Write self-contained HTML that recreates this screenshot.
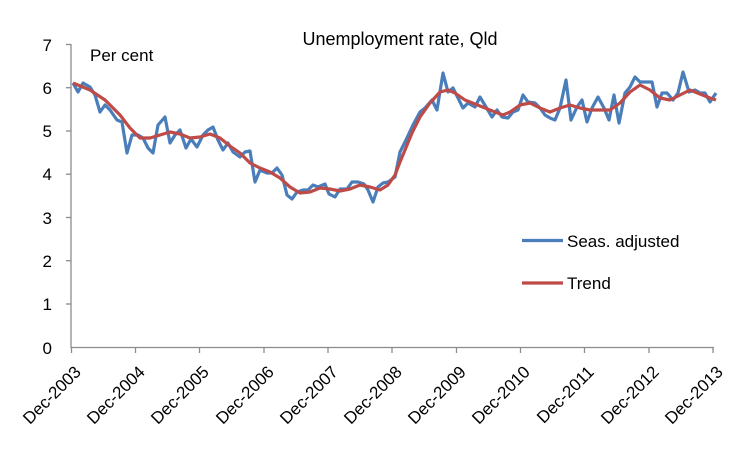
<!DOCTYPE html>
<html><head><meta charset="utf-8"><style>
body{margin:0;background:#fff;}
svg{display:block;font-family:"Liberation Sans",Arial,sans-serif;}
</style></head><body>
<svg width="751" height="451" viewBox="0 0 751 451">
<rect width="751" height="451" fill="#fff"/>
<g stroke="#8c8c8c" stroke-width="1.3">
<line x1="71" y1="44" x2="71" y2="348"/>
<line x1="71" y1="347.5" x2="714" y2="347.5"/>
<line x1="66" y1="44.5" x2="71" y2="44.5"/>
<line x1="66" y1="87.7" x2="71" y2="87.7"/>
<line x1="66" y1="131" x2="71" y2="131"/>
<line x1="66" y1="174.2" x2="71" y2="174.2"/>
<line x1="66" y1="217.5" x2="71" y2="217.5"/>
<line x1="66" y1="260.7" x2="71" y2="260.7"/>
<line x1="66" y1="304" x2="71" y2="304"/>
<line x1="71.5" y1="347" x2="71.5" y2="353"/>
<line x1="135.5" y1="347" x2="135.5" y2="353"/>
<line x1="199.5" y1="347" x2="199.5" y2="353"/>
<line x1="264" y1="347" x2="264" y2="353"/>
<line x1="328" y1="347" x2="328" y2="353"/>
<line x1="392" y1="347" x2="392" y2="353"/>
<line x1="456.5" y1="347" x2="456.5" y2="353"/>
<line x1="520.5" y1="347" x2="520.5" y2="353"/>
<line x1="584.5" y1="347" x2="584.5" y2="353"/>
<line x1="649" y1="347" x2="649" y2="353"/>
<line x1="713" y1="347" x2="713" y2="353"/>
</g>
<g font-size="17" fill="#000" text-anchor="end">
<text x="52" y="51">7</text><text x="52" y="94">6</text><text x="52" y="137">5</text><text x="52" y="180">4</text><text x="52" y="224">3</text><text x="52" y="267">2</text><text x="52" y="310">1</text><text x="52" y="354">0</text>
</g>
<text x="90" y="61" font-size="17">Per cent</text>
<text x="400" y="45" font-size="18" text-anchor="middle">Unemployment rate, Qld</text>
<g font-size="17" text-anchor="end">
<text transform="translate(82,373) rotate(-45)">Dec-2003</text>
<text transform="translate(146,373) rotate(-45)">Dec-2004</text>
<text transform="translate(210,373) rotate(-45)">Dec-2005</text>
<text transform="translate(275,373) rotate(-45)">Dec-2006</text>
<text transform="translate(339,373) rotate(-45)">Dec-2007</text>
<text transform="translate(403,373) rotate(-45)">Dec-2008</text>
<text transform="translate(467,373) rotate(-45)">Dec-2009</text>
<text transform="translate(531,373) rotate(-45)">Dec-2010</text>
<text transform="translate(595,373) rotate(-45)">Dec-2011</text>
<text transform="translate(660,373) rotate(-45)">Dec-2012</text>
<text transform="translate(724,373) rotate(-45)">Dec-2013</text>
</g>
<polyline fill="none" stroke="#4a7ebb" stroke-width="3.2" stroke-linejoin="round" points="73,83 78,92 83,83 90,87 95,95 100,112 105,105 110,110 117,120 122,122 127,153 132,135 138,135 143,138 148,148 153,153 158,125 165,117 170,143 175,135 180,130 186,148 191,139 197,147 203,135 208,130 213,127 218,140 223,150 228,143 233,152 240,157 245,152 250,151 255,182 260,170 267,173 272,173 277,168 282,175 287,195 292,199 297,192 303,190 308,190 313,185 318,187 325,184 329,194 335,197 340,189 347,189 352,182 358,182 364,184 368,190 373,202 378,187 383,183 388,182 395,177 400,152 405,142 413,125 420,112 425,108 432,100 437,110 443,73 448,92 453,88 458,98 463,108 468,103 475,107 480,97 486,107 492,117 497,110 502,117 508,118 513,112 518,110 523,95 528,102 535,103 540,108 545,115 550,118 555,120 560,108 566,80 571,120 577,107 582,100 587,122 592,108 598,97 604,108 609,120 614,95 619,123 625,93 630,87 635,77 640,82 647,82 652,82 657,107 662,93 667,93 673,100 678,93 683,72 689,92 695,90 700,93 705,93 710,102 716,93"/>
<polyline fill="none" stroke="#be4b48" stroke-width="3.2" stroke-linejoin="round" points="73,83 90,90 105,100 120,115 130,128 140,138 150,138 160,135 170,132 180,134 190,138 200,137 210,134 220,138 230,146 240,153 250,163 260,168 270,172 280,178 290,187 300,193 310,192 320,188 330,189 340,191 350,189 360,185 370,187 380,190 388,185 395,175 400,162 405,150 412,133 420,117 430,103 440,92 448,90 455,93 465,100 475,104 485,108 495,112 503,115 510,112 520,105 530,103 540,108 550,112 560,108 570,105 580,108 590,110 600,110 610,110 620,103 630,92 640,85 650,90 660,98 670,100 680,95 690,90 700,94 710,98 716,100"/>
<line x1="522" y1="240.5" x2="563" y2="240.5" stroke="#4a7ebb" stroke-width="3.2"/>
<line x1="522" y1="283" x2="563" y2="283" stroke="#be4b48" stroke-width="3.2"/>
<text x="567" y="247" font-size="17">Seas. adjusted</text>
<text x="567" y="289" font-size="17">Trend</text>
</svg>
</body></html>
